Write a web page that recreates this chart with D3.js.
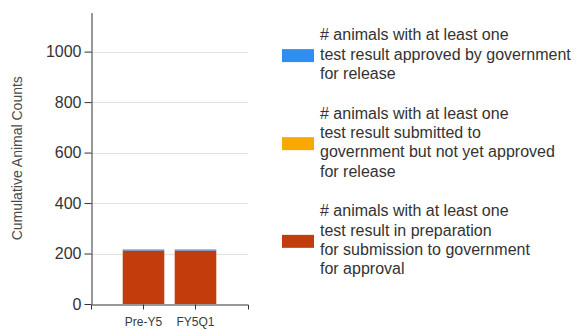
<!DOCTYPE html>
<html>
<head>
<meta charset="utf-8">
<script src="https://cdn.jsdelivr.net/npm/d3@7"></script>
<style>
  html, body { margin: 0; padding: 0; background: #fff; }
  svg { display: block; font-family: "Liberation Sans", Arial, sans-serif; }
</style>
</head>
<body>
<svg id="chart" width="577" height="330"></svg>
<script>
// Reporting periods
const categories = ["Pre-Y5", "FY5Q1"];

// Cumulative animal counts per status (stacked bottom to top)
const inPreparation = [212, 212];
const submittedNotApproved = [0, 0];
const approvedForRelease = [4, 4];

const yTicks = [0, 200, 400, 600, 800, 1000];

const seriesNames = [
  ["# animals with at least one", "test result approved by government", "for release"],
  ["# animals with at least one", "test result submitted to", "government but not yet approved", "for release"],
  ["# animals with at least one", "test result in preparation", "for submission to government", "for approval"]
];
const seriesColors = ["#2F8FF0", "#F7A900", "#C33D0C"];

const svg = d3.select("#chart");

const plot = { left: 91, right: 248, top: 12.5, bottom: 304 };
const yMax = 1155;

const x = d3.scaleBand()
  .domain(categories)
  .range([plot.left, plot.right])
  .paddingInner(0.2)
  .paddingOuter(0.61);

const y = d3.scaleLinear()
  .domain([0, yMax])
  .range([plot.bottom, plot.top]);

// Gridlines
svg.append("g")
  .selectAll("line")
  .data(yTicks.filter(d => d > 0))
  .join("line")
  .attr("x1", plot.left)
  .attr("x2", plot.right)
  .attr("y1", d => Math.round(y(d)) + 0.5)
  .attr("y2", d => Math.round(y(d)) + 0.5)
  .attr("stroke", "#e3e3e3")
  .attr("stroke-width", 1);

// Stacked bars
const rows = categories.map((c, i) => ({
  category: c,
  prep: inPreparation[i],
  submitted: submittedNotApproved[i],
  approved: approvedForRelease[i]
}));
const keys = ["prep", "submitted", "approved"];
const keyColors = { prep: seriesColors[2], submitted: seriesColors[1], approved: seriesColors[0] };
const stacked = d3.stack().keys(keys)(rows);

svg.append("g")
  .selectAll("g")
  .data(stacked)
  .join("g")
  .attr("fill", d => keyColors[d.key])
  .selectAll("rect")
  .data(d => d)
  .join("rect")
  .attr("x", d => x(d.data.category))
  .attr("width", x.bandwidth())
  .attr("y", d => y(d[1]))
  .attr("height", d => y(d[0]) - y(d[1]));

// Y axis
const yAxis = svg.append("g")
  .attr("transform", `translate(${plot.left + 0.5},0)`)
  .call(d3.axisLeft(y).tickValues(yTicks).tickSize(7).tickSizeOuter(0).tickPadding(3).tickFormat(d3.format("d")));
yAxis.select(".domain").attr("stroke", "#333");
yAxis.selectAll(".tick line").attr("stroke", "#333");
yAxis.selectAll("text")
  .attr("fill", "#333")
  .style("font-size", "16px");

// X axis
const xAxis = svg.append("g")
  .attr("transform", `translate(0,${plot.bottom + 0.5})`)
  .call(d3.axisBottom(x).tickSize(5).tickSizeOuter(5).tickPadding(8));
xAxis.select(".domain").attr("stroke", "#333");
xAxis.selectAll(".tick line").attr("stroke", "#333");
xAxis.selectAll("text")
  .attr("fill", "#3a3a3a")
  .style("font-size", "12px");

// Y axis title
svg.append("text")
  .attr("transform", `translate(22,${(plot.top + plot.bottom) / 2}) rotate(-90)`)
  .attr("text-anchor", "middle")
  .attr("fill", "#4a4a4a")
  .style("font-size", "14px")
  .text("Cumulative Animal Counts");

// Legend
const legend = svg.append("g");
const lineH = 19.3;
const groupGap = 20.5;
let cy = 35;
seriesNames.forEach((lines, i) => {
  const g = legend.append("g");
  const first = cy;
  const last = cy + (lines.length - 1) * lineH;
  g.append("rect")
    .attr("x", 282)
    .attr("y", (first + last) / 2 + 1.3 - 6.5)
    .attr("width", 32)
    .attr("height", 13)
    .attr("fill", seriesColors[i]);
  lines.forEach((t, j) => {
    g.append("text")
      .attr("x", 320)
      .attr("y", cy + j * lineH)
      .attr("dy", "0.33em")
      .attr("fill", "#333")
      .style("font-size", "16px")
      .text(t);
  });
  cy = last + lineH + groupGap;
});
</script>
</body>
</html>
